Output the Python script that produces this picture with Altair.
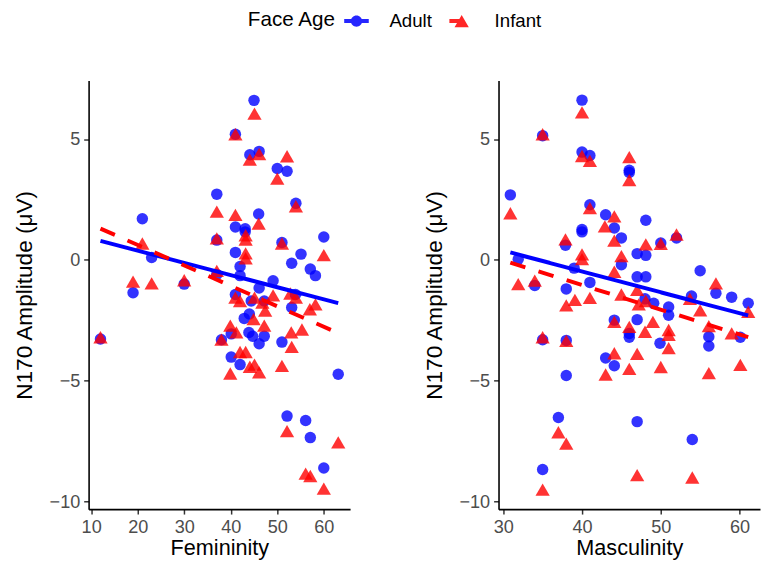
import altair as alt
import pandas as pd

# ---- Femininity panel (left) ----
fem_adult_x = [12, 19, 21, 23, 30, 37, 37, 37, 38, 40.1, 40.1, 41, 41, 41, 41, 42, 42, 42,
               43.1, 43.1, 42.9, 44, 43.9, 44.1, 44.4, 44.7, 45, 46.1, 46, 46.1, 46.1, 47.2, 47.2,
               49.1, 50, 51, 51, 52.1, 52.1, 53.1, 53.1, 53.9, 54, 55.1, 56.1, 57.1, 57.1, 58.2,
               60, 60, 63.1]
fem_adult_y = [-3.27, -1.36, 1.7, 0.1, -1.0, 2.72, 0.82, -0.6, -3.3, -3.06, -4.02, 5.2, 1.36, 0.31,
               -1.43, -0.27, -0.65, -4.33, 1.29, 1.16, -2.42, -2.24, -3.0, 4.35, -1.7, -3.16, 6.6,
               4.49, 1.9, -1.16, -3.47, -1.7, -3.16, -0.86, 3.78, 0.72, -3.4, 3.67, -6.46, -0.14,
               -1.97, -1.43, 2.34, 0.24, -6.64, -0.38, -7.35, -0.65, 0.95, -8.61, -4.73]
fem_infant_x = [12, 19, 21, 23, 30, 37, 37, 37, 38, 39.9, 39.9, 41, 41, 41, 41.2, 42, 42,
                43.2, 43.2, 43.2, 43.2, 43.2, 44.1, 44.1, 44.9, 45.1, 45.1, 45.1, 46.1, 46, 46.1,
                46.8, 47.4, 47.2, 49.1, 50, 51, 51, 52.1, 52.1, 52.8, 53, 53.1, 54, 54, 55.3,
                56.1, 57, 57.1, 58.2, 60, 60, 63.1]
fem_infant_y = [-3.2, -0.9, 0.68, -0.97, -0.84, 2.0, 0.89, -0.45, -3.3, -2.72, -4.7, 5.2, 1.86,
                -1.56, -3.0, -1.7, -3.81, 1.02, 0.84, 0.27, 0.07, -3.81, 4.15, -4.42, -2.45, 6.05,
                -1.56, -4.33, 4.38, 1.5, -4.65, -1.77, -2.1, -2.72, -1.47, 3.36, 0.68, -4.38, 4.29,
                -7.08, -1.39, -3.0, -3.6, -1.56, 2.22, -2.88, -8.84, -2.04, -8.94, -1.84, 0.2,
                -9.46, -7.55]

# ---- Masculinity panel (right) ----
masc_adult_x = [30.9, 31.9, 34, 35, 35, 35, 37, 37.9, 38, 38, 38, 39, 40, 40, 40, 40, 41, 41, 41,
                43, 43, 44.1, 44.1, 44.1, 45, 45, 46, 46, 46, 46, 47, 47, 47, 47, 48.1, 48.1, 48.1,
                48, 49.1, 50, 49.9, 51, 51, 52, 53.9, 54, 55, 56.1, 56.1, 57, 59, 60.1, 61.1]
masc_adult_y = [2.69, 0.03, -1.06, 5.14, -3.3, -8.67, -6.52, 0.61, -1.2, -3.33, -4.78, -0.34,
                6.61, 4.46, 1.26, 1.16, 4.32, 2.28, -0.93, 1.87, -4.06, 1.32, -2.49, -4.38, 0.91,
                -0.2, 3.71, 3.62, -3.04, -3.2, 0.26, -0.7, -2.47, -6.69, 1.64, 0.19, -0.7, -1.61,
                -1.79, 0.7, -3.45, -1.95, -2.29, 0.91, -1.49, -7.43, -0.45, -3.18, -3.56, -1.38,
                -1.54, -3.2, -1.79]
masc_infant_x = [30.9, 31.9, 34, 35, 35, 35, 37, 37.9, 38, 38, 38, 39.1, 40, 40, 40, 40, 41, 41,
                 41, 42.9, 43, 44.1, 44.1, 44.1, 44.1, 44.1, 45, 45, 46, 46, 46, 46, 47, 47.2, 47,
                 47, 48.1, 48.1, 48, 49, 50, 50, 51, 51, 51, 52, 53.7, 54, 55, 56.1, 56.1, 57, 59,
                 60.1, 61.1]
masc_infant_y = [1.93, -1.0, -0.86, 5.2, -3.2, -9.5, -7.13, 0.85, -1.88, -3.35, -7.6, -1.65, 6.1,
                 4.3, 0.23, 0.03, 4.1, 2.14, -1.57, 1.39, -4.74, 1.8, 0.8, -0.49, -2.56, -3.86,
                 0.16, -1.43, 4.25, 3.3, -2.77, -4.51, -1.24, -1.84, -3.89, -8.9, 0.64, -1.7, -2.97,
                 -2.56, 0.67, -4.43, -2.9, -3.1, -3.65, 1.05, -1.61, -9.0, -2.09, -2.74, -4.68,
                 -0.97, -3.04, -4.34, -2.15]

AGES = ["Adult", "Infant"]
COLORS = ["#0000FF", "#FF0000"]


def make_df(ax, ay, ix, iy):
    return pd.DataFrame({
        "x": ax + ix,
        "y": ay + iy,
        "age": ["Adult"] * len(ax) + ["Infant"] * len(ix),
    })


# legend keys: point with a line segment through it (like ggplot's key)
ADULT_KEY = "M-1.19,-0.19H1.19V0.19H-1.19ZM0.55,0A0.55,0.55,0,1,1,-0.55,0A0.55,0.55,0,1,1,0.55,0Z"
INFANT_KEY = "M-1.19,-0.19H0.24V0.19H-1.19ZM0,-0.6L0.69,0.6L-0.69,0.6Z"

legend = alt.Legend(
    orient="none", legendX=162, legendY=-71, direction="horizontal",
    titleOrient="left", title="Face Age", titleFontSize=21, titleFontWeight="normal",
    titleColor="black", labelFontSize=19, labelColor="black", symbolSize=441,
    labelOffset=23, columnPadding=17, titlePadding=10, gridAlign="none",
    symbolStrokeWidth=0, symbolOpacity=0.85,
)

color_scale = alt.Scale(domain=AGES, range=COLORS)


def panel(df, xtitle, xdomain, xticks):
    base = alt.Chart(df)
    x = alt.X("x:Q", scale=alt.Scale(domain=xdomain, nice=False, zero=False),
              axis=alt.Axis(values=xticks, title=xtitle))
    y = alt.Y("y:Q", scale=alt.Scale(domain=[-10.31, 7.42], nice=False, zero=False),
              axis=alt.Axis(values=[-10, -5, 0, 5], title="N170 Amplitude (μV)"))
    color_nolegend = alt.Color("age:N", scale=color_scale, legend=None)

    # invisible layer that only carries the legend
    key = base.mark_point(filled=True, opacity=0, size=441, strokeWidth=0).encode(
        x=x, y=y,
        color=alt.Color("age:N", scale=color_scale, legend=legend, title="Face Age"),
        shape=alt.Shape("age:N", scale=alt.Scale(domain=AGES, range=[ADULT_KEY, INFANT_KEY]),
                        legend=legend, title="Face Age"))
    adult = base.transform_filter(alt.datum.age == "Adult").mark_point(
        filled=True, opacity=0.8, strokeWidth=0, shape="circle", size=136).encode(
        x=x, y=y, color=color_nolegend)
    infant = base.transform_filter(alt.datum.age == "Infant").mark_point(
        filled=True, opacity=0.8, strokeWidth=0, shape="triangle-up", size=210).encode(
        x=x, y=y, color=color_nolegend)
    lines = base.transform_regression("x", "y", groupby=["age"]).mark_line(strokeWidth=4).encode(
        x="x:Q", y="y:Q", color=color_nolegend,
        strokeDash=alt.StrokeDash("age:N", scale=alt.Scale(domain=AGES, range=[[1, 0], [16, 14]]),
                                  legend=None))
    return alt.layer(key, adult, infant, lines).properties(width=266, height=436)


left = panel(make_df(fem_adult_x, fem_adult_y, fem_infant_x, fem_infant_y),
             "Femininity", [9.45, 65.65], [10, 20, 30, 40, 50, 60])
right = panel(make_df(masc_adult_x, masc_adult_y, masc_infant_x, masc_infant_y),
              "Masculinity", [29.4, 62.6], [30, 40, 50, 60])

chart = alt.hconcat(left, right, spacing=73).properties(
    padding={"left": 5, "top": -2, "right": 0, "bottom": 0}
).configure(font="Liberation Sans").configure_view(stroke=None).configure_axis(
    grid=False, domainColor="black", domainWidth=1.6, tickColor="#333333", tickWidth=1.5,
    tickSize=5, labelColor="#4D4D4D", labelFontSize=18.4, titleFontSize=23,
    titleColor="black", titleFontWeight="normal", labelPadding=4
).configure_axisY(titlePadding=13).configure_axisX(titlePadding=2, titleFontSize=22)

chart.save("out.html", embed_options={"renderer": "svg", "actions": False})
